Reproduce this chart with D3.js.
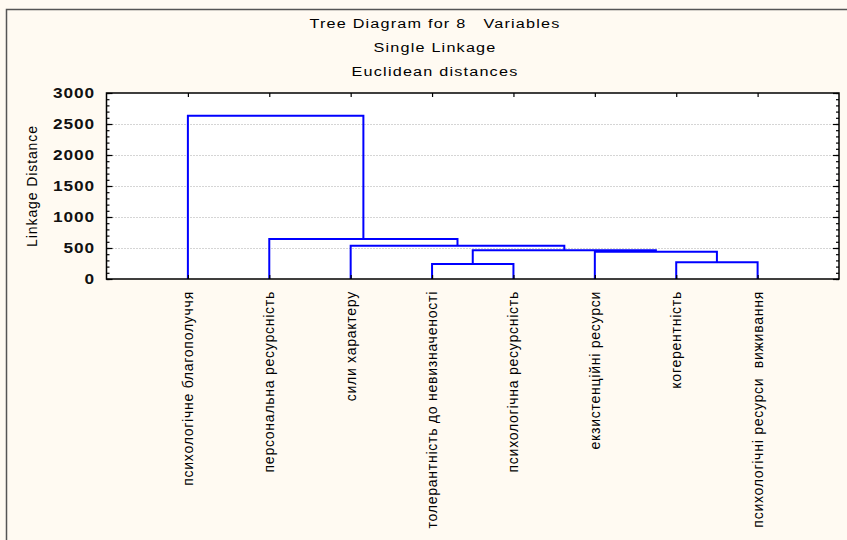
<!DOCTYPE html>
<html>
<head>
<meta charset="utf-8">
<script src="https://cdn.jsdelivr.net/npm/d3@7"></script>
<style>
  body { margin: 0; background: #fffaf2; }
  text { font-family: "Liberation Sans", Arial, sans-serif; fill: #000; white-space: pre; }
</style>
</head>
<body>
<div id="chart"></div>
<script>
// leaf labels, in dendrogram order
const labels = [
  "психологічне благополуччя",
  "персональна ресурсність",
  "сили характеру",
  "толерантність до невизначеності",
  "психологічна ресурсність",
  "екзистенційні ресурси",
  "когерентність",
  "психологічні ресурси  виживання"
];

// merges: leaves are 0..7, new clusters get ids 8, 9, ...
const mergeA = [3, 6, 5, 8, 2, 1, 0];
const mergeB = [4, 7, 9, 10, 11, 12, 13];
const mergeDist = [242, 269, 440, 463, 537, 645, 2634];

const yTicks = [0, 500, 1000, 1500, 2000, 2500, 3000];
const titleLines = ["Tree Diagram for 8   Variables", "Single Linkage", "Euclidean distances"];

const width = 847, height = 540;
const margin = {left: 106.5, right: 8, top: 93, bottom: 261};

const svg = d3.select("#chart").append("svg")
  .attr("width", width)
  .attr("height", height);

// cream background with the thin frame on the left and top
svg.append("rect").attr("width", width).attr("height", height).attr("fill", "#fffaf2");
svg.append("path")
  .attr("d", `M6.5,${height} L6.5,9.5 L${width},9.5`)
  .attr("fill", "none")
  .attr("stroke", "#555")
  .attr("stroke-width", 1.5);

const x0 = margin.left, x1 = width - margin.right;
const yTop = margin.top, yBot = height - margin.bottom;

const x = d3.scaleLinear().domain([0, 9]).range([x0, x1]);
const y = d3.scaleLinear().domain([0, 3000]).range([yBot, yTop]);

// title (the original is a bit stretched sideways)
svg.selectAll(".title").data(titleLines).enter().append("text")
  .attr("class", "title")
  .attr("transform", (d, i) => `translate(435,${28 + i * 24}) scale(1.2,1)`)
  .attr("text-anchor", "middle")
  .style("font-size", "13.5px")
  .style("letter-spacing", "1px")
  .text(d => d);

// plot area
svg.append("rect")
  .attr("x", x0).attr("y", yTop)
  .attr("width", x1 - x0).attr("height", yBot - yTop)
  .attr("fill", "#fff");

// dotted grid
svg.selectAll(".grid").data(yTicks.slice(1, -1)).enter().append("line")
  .attr("x1", x0).attr("x2", x1)
  .attr("y1", d => Math.round(y(d)) + 0.5).attr("y2", d => Math.round(y(d)) + 0.5)
  .attr("stroke", "#aaa")
  .attr("stroke-dasharray", "1,2");

// y axes with inward ticks, minor ticks every 100
const minor = d3.range(0, 3001, 100);
svg.append("g").attr("transform", `translate(${x0},0)`)
  .call(d3.axisRight(y).tickValues(minor).tickSize(3).tickFormat(""));
svg.append("g").attr("transform", `translate(${x1},0)`)
  .call(d3.axisLeft(y).tickValues(minor).tickSize(3).tickFormat(""));
svg.append("g").attr("transform", `translate(${x0},0)`)
  .call(d3.axisRight(y).tickValues(yTicks).tickSize(6).tickFormat(""));
svg.append("g").attr("transform", `translate(${x1},0)`)
  .call(d3.axisLeft(y).tickValues(yTicks).tickSize(6).tickFormat(""));

// y tick labels
svg.selectAll(".ylab").data(yTicks).enter().append("text")
  .attr("transform", d => `translate(95,${y(d)}) scale(1.15,1)`)
  .attr("dy", "0.35em")
  .attr("text-anchor", "end")
  .style("font-size", "15px")
  .style("font-weight", "bold")
  .style("letter-spacing", "0.8px")
  .style("fill", "#111")
  .text(d => d);

svg.append("text")
  .attr("transform", `translate(37,${(yTop + yBot) / 2}) rotate(-90)`)
  .attr("text-anchor", "middle")
  .style("font-size", "14px")
  .style("letter-spacing", "0.9px")
  .text("Linkage Distance");

// build node positions
const nodeX = labels.map((d, i) => x(i + 1));
const nodeH = labels.map(() => 0);
const links = [];
mergeDist.forEach((dist, i) => {
  const a = mergeA[i], b = mergeB[i];
  links.push([nodeX[a], nodeH[a], nodeX[b], nodeH[b], dist]);
  nodeX.push((nodeX[a] + nodeX[b]) / 2);
  nodeH.push(dist);
});

svg.selectAll(".link").data(links).enter().append("path")
  .attr("d", d => `M${d[0]},${y(d[1])} L${d[0]},${y(d[4])} L${d[2]},${y(d[4])} L${d[2]},${y(d[3])}`)
  .attr("fill", "none")
  .attr("stroke", "#0000ff")
  .attr("stroke-width", 2);

// top and bottom ticks at leaves
svg.append("g").attr("transform", `translate(0,${yBot})`)
  .call(d3.axisTop(x).tickValues(d3.range(1, 9)).tickSize(4).tickFormat(""));
svg.append("g").attr("transform", `translate(0,${yTop})`)
  .call(d3.axisBottom(x).tickValues(d3.range(1, 9)).tickSize(4).tickFormat(""));
svg.selectAll(".domain").remove();
svg.selectAll(".tick line").attr("stroke", "#000").attr("stroke-width", 1.2);

// frame
svg.append("rect")
  .attr("x", x0).attr("y", yTop)
  .attr("width", x1 - x0).attr("height", yBot - yTop)
  .attr("fill", "none")
  .attr("stroke", "#000")
  .attr("stroke-width", 1.5);

// rotated leaf labels
svg.selectAll(".xlab").data(labels).enter().append("text")
  .attr("transform", (d, i) => `translate(${x(i + 1) + 5},291) rotate(-90)`)
  .attr("text-anchor", "end")
  .style("font-size", "14px")
  .style("letter-spacing", "0.75px")
  .text(d => d);
</script>
</body>
</html>
